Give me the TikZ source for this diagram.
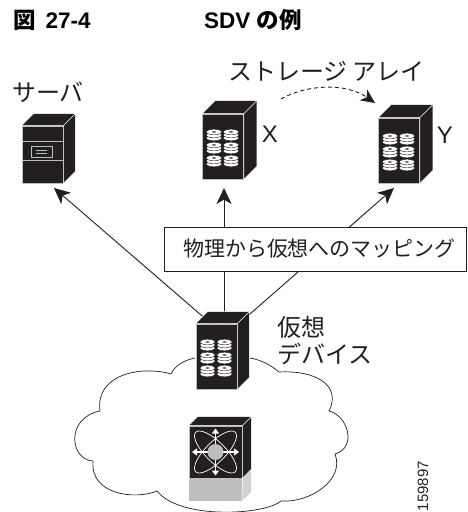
\documentclass[tikz,border=0pt]{standalone}
\usepackage{fontspec}
\setmainfont{Liberation Sans}
\newfontfamily\cjk{Noto Sans CJK JP}
\usetikzlibrary{arrows.meta,backgrounds}
\definecolor{rackblack}{HTML}{231F20}
\definecolor{rackgrey}{HTML}{BCBEC0}
\tikzset{
  rack_n/.style = {rectangle, inner sep=0pt, fill=rackblack, draw=rackgrey,
    line width=0.8pt, minimum width=41pt, minimum height=65pt},
  switch_n/.style = {rectangle, inner sep=0pt, fill=rackblack, draw=rackgrey,
    line width=0.8pt, minimum width=53pt, minimum height=52pt},
  label_n/.style = {inner sep=0pt, text=rackblack, font=\fontsize{24}{27}\selectfont\cjk},
  letter_n/.style = {inner sep=0pt, text=rackblack, font=\fontsize{24}{24}\selectfont},
  title_n/.style = {inner sep=0pt, anchor=base west, text=black, font=\fontsize{22.5}{22.5}\selectfont\bfseries},
  map_arrow/.style = {draw=rackblack, line width=0.9pt, -{Stealth[length=16pt,width=15pt,inset=4.5pt]}},
  white_arrow/.style = {draw=white, line width=1.1pt, -{Triangle[length=5pt,width=7pt]}}
}
% top and side of a cabinet, #2 is the depth
\newcommand{\rackfaces}[2]{
	\fill[rackblack, draw=white, line width=0.5pt] (#1.north west) -- ([shift={(#2,-#2)}]#1.north west)
		-- ([shift={(#2,-#2)}]#1.north east) -- ([shift={(#2,-#2)}]#1.south east)
		-- (#1.south east) -- (#1.north east) -- cycle;
	\draw[white, line width=0.5pt] (#1.north east) -- ([shift={(#2,-#2)}]#1.north east);
}
% six stacks of disks on the front
\newcommand{\rackdisks}[1]{
	\begin{scope}[shift={(#1.center)}]
	\foreach \cx in {-9,8} \foreach \cy in {-11.5,1.5,14.5} {
		\foreach \dy in {3,0,-3}
			\draw[fill=white, draw=rackblack, line width=0.4pt] (\cx,\cy+\dy) ellipse (7.5pt and 2.8pt);
		\fill[rackblack] (\cx,\cy-3) ellipse (2.2pt and 0.6pt);
	}
	\end{scope}
}

\begin{document}
\begin{tikzpicture}[x=1pt,y=-1pt]
\useasboundingbox (0,0) rectangle (467,512);

\node [title_n] (fig_no) at (13,28) {{\cjk 図}\hspace{10pt}27-4};
\node [title_n] (fig_name) at (204,28) {SDV {\cjk の例}};

% the cloud
\draw[rackblack, line width=0.7pt] (250,358) .. controls (262,360) and (272,366) .. (279,372)
	.. controls (315,370) and (342,385) .. (329,411)
	.. controls (347,415) and (358,447) .. (335,454)
	.. controls (345,480) and (310,503) .. (281,501)
	.. controls (265,515) and (180,520) .. (157,491)
	.. controls (135,500) and (90,495) .. (93,461)
	.. controls (70,460) and (65,418) .. (100,411)
	.. controls (95,375) and (140,365) .. (171,374)
	.. controls (175,365) and (185,360) .. (195,358);

\node [rack_n, minimum height=57pt] (server) at (42.5,154.5) {};
\rackfaces{server}{12}
\node [rack_n] (array_x) at (223,146.5) {};
\rackfaces{array_x}{13}
\rackdisks{array_x}
\node [rack_n] (array_y) at (399,150.5) {};
\rackfaces{array_y}{13}
\rackdisks{array_y}
\node [rack_n] (virt) at (216.5,356.5) {};
\rackfaces{virt}{12}
\rackdisks{virt}
\node [switch_n] (switch) at (215.5,452) {};
\rackfaces{switch}{9}

% server front
\draw[rackgrey, line width=0.8pt] (22,141) -- (63,141) (22,160) -- (63,160);
\draw[rackgrey, line width=0.9pt] (31,146) rectangle (52,157);
\draw[rackgrey, line width=0.7pt] (36,150) -- (47,150) (36,153) -- (47,153);

% switch base and front
\fill[rackgrey] (switch.south west) rectangle (242,501);
\fill[rackgrey!70] (switch.south east) -- (251,469) -- (251,492) -- (242,501) -- cycle;
\draw[white, line width=0.6pt] (switch.south east) -- (242,501);
\begin{scope}[shift={(switch.center)}]
	\draw[white, line width=0.7pt, rotate=45] (0,0) ellipse (28pt and 10pt);
	\draw[white, line width=0.7pt, rotate=-45] (0,0) ellipse (28pt and 10pt);
	\foreach \tx/\ty in {0/-23.5,0/23.5,-23.5/0,23.5/0}
		\draw[white_arrow] (0,0) -- (\tx,\ty);
	\fill[rackgrey] (0,0) circle (8pt);
\end{scope}

% free ends of the connectors
\coordinate (server_in) at (54,188);
\coordinate (x_in) at (224,188);
\coordinate (y_in) at (394,188);
\coordinate (move_from) at (281,99);
\coordinate (move_to) at (375,103);

\begin{scope}[on background layer]
	\draw[map_arrow] ([xshift=-5.5]virt.north) -- (server_in);
	\draw[map_arrow] ([xshift=7.5]virt.north) -- (x_in);
	\draw[map_arrow] ([xshift=22.5]virt.north) -- (y_in);
\end{scope}
\draw[map_arrow, dashed, dash pattern=on 4pt off 3pt, -{Stealth[length=14pt,width=13pt,inset=4pt]}]
	(move_from) .. controls (305,85) and (345,82) .. (move_to);

\node [rectangle, draw=rackblack, fill=white, line width=0.8pt, inner sep=0pt, minimum width=302pt,
	minimum height=44pt, text=rackblack, font=\fontsize{21}{22}\selectfont\cjk] (mapping) at (315,249) {\hspace*{9pt}物理から仮想へのマッピング};

\node [label_n] (server_label) at (48,92) {サーバ};
\node [label_n] (array_label) at (326.5,71) {ストレージ アレイ};
\node [letter_n] (x_label) at (270,134) {X};
\node [letter_n] (y_label) at (445,135) {Y};
\node [label_n, anchor=west, align=left] (virt_label) at (277,341) {仮想\\デバイス};
\node [inner sep=0pt, anchor=east, rotate=90, text=rackblack, font=\fontsize{15}{15}\selectfont] (fig_id) at (423,461) {159897};
\end{tikzpicture}
\end{document}
